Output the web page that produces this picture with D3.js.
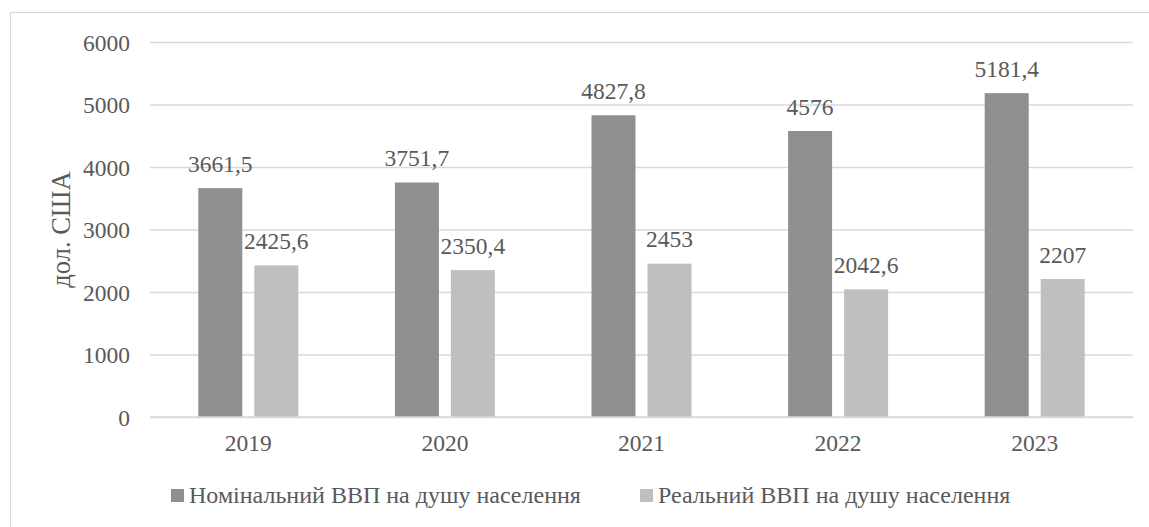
<!DOCTYPE html>
<html>
<head>
<meta charset="utf-8">
<script src="https://cdn.jsdelivr.net/npm/d3@7"></script>
<style>
  html, body { margin: 0; padding: 0; background: #fff; }
  svg { display: block; }
</style>
</head>
<body>
<svg id="chart" width="1149" height="527"></svg>
<script>
const years = ["2019", "2020", "2021", "2022", "2023"];
const seriesNames = ["Номінальний ВВП на душу населення", "Реальний ВВП на душу населення"];
const nominal = [3661.5, 3751.7, 4827.8, 4576, 5181.4];
const real = [2425.6, 2350.4, 2453, 2042.6, 2207];
const yTicks = [0, 1000, 2000, 3000, 4000, 5000, 6000];
const yTitle = "дол. США";
const colors = ["#8f8f8f", "#bfbfbf"];

const FONT = "'Liberation Serif', 'Times New Roman', Times, serif";
const TXT = "#595959";

const svg = d3.select("#chart");
const W = 1149, H = 527;
const m = { left: 150, right: 16, top: 42, bottom: 110 };
const plotW = W - m.left - m.right;
const plotH = H - m.top - m.bottom;

svg.append("rect").attr("x", 10.5).attr("y", 12.5).attr("width", 1149).attr("height", 530)
  .attr("fill", "none").attr("stroke", "#d9d9d9").attr("stroke-width", 1.2);

const g = svg.append("g").attr("transform", `translate(${m.left},${m.top})`);

const x0 = d3.scaleBand().domain(years).range([0, plotW]).padding(0);
const groupW = 100;
const x1 = d3.scaleBand().domain([0, 1]).range([0, groupW]).paddingInner(12 / 56).paddingOuter(0);
const y = d3.scaleLinear().domain([0, 6000]).range([plotH, 0]);

function styleText(sel, fs) {
  sel.style("font-family", FONT).style("font-size", (fs || 23.5) + "px").style("fill", TXT);
}

const yAxis = d3.axisLeft(y).tickValues(yTicks).tickSize(-plotW).tickFormat(d => d).tickPadding(20);
const ya = g.append("g").call(yAxis);
ya.select(".domain").remove();
ya.selectAll(".tick line").attr("stroke", "#d9d9d9").attr("stroke-width", 1.5);
ya.selectAll(".tick text").call(styleText).attr("dy", "0.35em");

const xa = g.append("g").attr("transform", `translate(0,${plotH})`)
  .call(d3.axisBottom(x0).tickSize(0));
xa.select(".domain").remove();
xa.selectAll(".tick text").call(styleText).attr("y", 34).attr("dy", 0);

const data = years.map((yr, i) => ({ year: yr, vals: [nominal[i], real[i]] }));
const fmt = v => String(v).replace(".", ",");

const groups = g.selectAll(".grp").data(data).enter().append("g")
  .attr("transform", d => `translate(${x0(d.year) + x0.bandwidth() / 2 - groupW / 2},0)`);

groups.selectAll("rect").data(d => d.vals.map((v, k) => ({ v, k }))).enter().append("rect")
  .attr("x", d => x1(d.k)).attr("width", x1.bandwidth())
  .attr("y", d => y(d.v)).attr("height", d => plotH - y(d.v))
  .attr("fill", d => colors[d.k]);

groups.selectAll(".lbl").data(d => d.vals.map((v, k) => ({ v, k }))).enter().append("text")
  .attr("class", "lbl")
  .attr("x", d => x1(d.k) + x1.bandwidth() / 2)
  .attr("y", d => y(d.v) - 16.5)
  .attr("text-anchor", "middle")
  .call(styleText)
  .text(d => fmt(d.v));

g.append("line").attr("x1", 0).attr("x2", plotW).attr("y1", plotH).attr("y2", plotH)
  .attr("stroke", "#d9d9d9").attr("stroke-width", 1.5);

svg.append("text").attr("transform", `translate(70,${m.top + plotH / 2}) rotate(-90)`)
  .attr("text-anchor", "middle").call(styleText, 26.5).text(yTitle);

const legendX = [171, 640];
const leg = svg.append("g");
seriesNames.forEach((name, k) => {
  leg.append("rect").attr("x", legendX[k]).attr("y", 489).attr("width", 13).attr("height", 13).attr("fill", colors[k]);
  leg.append("text").attr("x", legendX[k] + 18).attr("y", 503).call(styleText, 24).text(name);
});
</script>
</body>
</html>
